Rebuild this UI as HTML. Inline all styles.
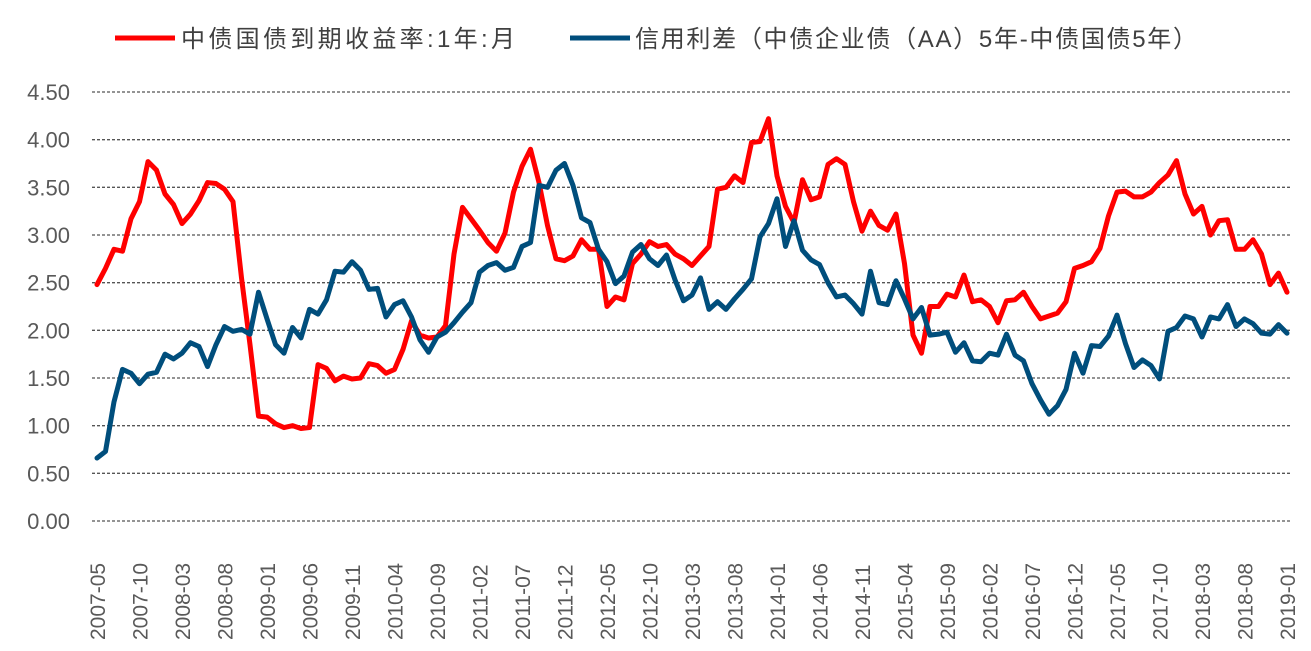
<!DOCTYPE html>
<html><head><meta charset="utf-8"><style>
body{margin:0;background:#fff;}
svg{display:block;font-family:"Liberation Sans","Noto Sans CJK SC",sans-serif;}
</style></head><body>
<svg id="chart" width="1311" height="651" viewBox="0 0 1311 651">
<g>
 <g>
  <line x1="115" y1="38" x2="175" y2="38" stroke="#ff0000" stroke-width="5"/>
  <text x="181" y="47" font-size="24" fill="#404040" textLength="334" lengthAdjust="spacing">中债国债到期收益率:1年:月</text>
 </g>
 <g>
  <line x1="570" y1="38" x2="630" y2="38" stroke="#004e7c" stroke-width="5"/>
  <text x="635" y="47" font-size="24" fill="#404040" textLength="562" lengthAdjust="spacing">信用利差（中债企业债（AA）5年-中债国债5年）</text>
 </g>
</g>
<g id="grid"></g>
<g id="yaxis"></g>
<g id="xaxis"></g>
<g id="series"></g>
</svg>
<script>
const startYear = 2007, startMonth = 5, monthCount = 141;
const yTicks = [0,0.5,1,1.5,2,2.5,3,3.5,4,4.5];
const treasuryYield = [2.48,2.65,2.85,2.83,3.17,3.35,3.77,3.68,
3.43,3.32,3.12,3.22,3.36,3.55,3.54,3.48,3.35,2.55,1.85,1.10,
1.09,1.02,0.98,1.00,0.97,0.98,1.64,1.60,1.47,1.52,1.49,1.50,
1.65,1.63,1.55,1.59,1.80,2.10,1.95,1.92,1.93,2.05,2.80,3.29,
3.17,3.05,2.92,2.83,3.02,3.45,3.72,3.90,3.55,3.10,2.75,2.73,
2.78,2.95,2.85,2.85,2.25,2.35,2.32,2.70,2.80,2.93,2.88,2.90,
2.80,2.75,2.68,2.78,2.88,3.48,3.50,3.62,3.55,3.97,3.98,4.22,
3.62,3.30,3.13,3.58,3.37,3.40,3.74,3.80,3.74,3.35,3.04,3.25,
3.10,3.05,3.22,2.70,1.95,1.76,2.25,2.25,2.38,2.35,2.58,2.30,
2.32,2.25,2.08,2.31,2.32,2.40,2.25,2.12,2.15,2.18,2.30,2.65,
2.68,2.72,2.86,3.20,3.45,3.46,3.40,3.40,3.45,3.55,3.63,3.78,
3.43,3.22,3.30,3.00,3.15,3.16,2.85,2.85,2.95,2.80,2.48,2.60,
2.40];
const creditSpread = [0.66,0.73,1.25,1.59,1.55,1.44,1.54,1.56,
1.75,1.70,1.76,1.87,1.83,1.62,1.85,2.04,1.99,2.01,1.96,2.40,
2.12,1.85,1.76,2.03,1.92,2.22,2.17,2.32,2.62,2.61,2.72,2.63,
2.43,2.44,2.14,2.27,2.31,2.14,1.90,1.77,1.93,1.98,2.08,2.19,
2.29,2.61,2.68,2.71,2.63,2.66,2.88,2.92,3.52,3.50,3.68,3.75,
3.52,3.18,3.13,2.85,2.72,2.49,2.57,2.82,2.90,2.75,2.68,2.79,
2.53,2.31,2.37,2.55,2.22,2.30,2.22,2.33,2.43,2.54,2.98,3.12,
3.38,2.88,3.15,2.84,2.74,2.69,2.50,2.35,2.37,2.28,2.17,2.62,
2.29,2.27,2.52,2.33,2.12,2.24,1.95,1.96,1.98,1.77,1.87,1.68,
1.67,1.76,1.74,1.96,1.74,1.68,1.44,1.27,1.12,1.21,1.38,1.76,
1.55,1.84,1.83,1.94,2.16,1.86,1.61,1.69,1.63,1.49,1.99,2.03,
2.15,2.12,1.93,2.14,2.12,2.27,2.04,2.12,2.07,1.97,1.96,2.06,
1.97];
const NS='http://www.w3.org/2000/svg';
const x0=97, x1=1287, y0=521, yTop=92;
function xs(i){return x0+(x1-x0)*i/(monthCount-1);}
function ys(v){return y0-(y0-yTop)*v/4.5;}
function mk(tag,attrs,parent){const e=document.createElementNS(NS,tag);for(const k in attrs)e.setAttribute(k,attrs[k]);parent.appendChild(e);return e;}
const grid=document.getElementById('grid'), ya=document.getElementById('yaxis'), xa=document.getElementById('xaxis'), se=document.getElementById('series');
yTicks.forEach(t=>{
 const l=mk('line',{x1:92,x2:1292,y1:ys(t),y2:ys(t),stroke:'#555','stroke-width':1.3,'stroke-dasharray':'3,2'},grid);
 
 
 const tx=mk('text',{x:70,y:ys(t)+8,'font-size':22,fill:'#595959','text-anchor':'end'},ya);
 tx.textContent=t.toFixed(2);
 
 
});
for(let i=0;i<monthCount;i+=5){
 const m=startMonth-1+i, yr=startYear+Math.floor(m/12), mo=m%12+1;
 const lab=yr+'-'+String(mo).padStart(2,'0');
 const x=xs(i)+8;
 const tx=mk('text',{x:x,y:640,'font-size':21,fill:'#595959',transform:'rotate(-90 '+x+' 640)'},xa);
 tx.textContent=lab;
 
 
}
function line(arr,color,name){
 const p=mk('polyline',{points:arr.map((v,i)=>xs(i)+','+ys(v)).join(' '),fill:'none',stroke:color,'stroke-width':5,'stroke-linejoin':'round','stroke-linecap':'round'},se);
 
 
}
line(treasuryYield,'#ff0000','treasury-yield-line');
line(creditSpread,'#004e7c','credit-spread-line');
</script>
</body></html>
